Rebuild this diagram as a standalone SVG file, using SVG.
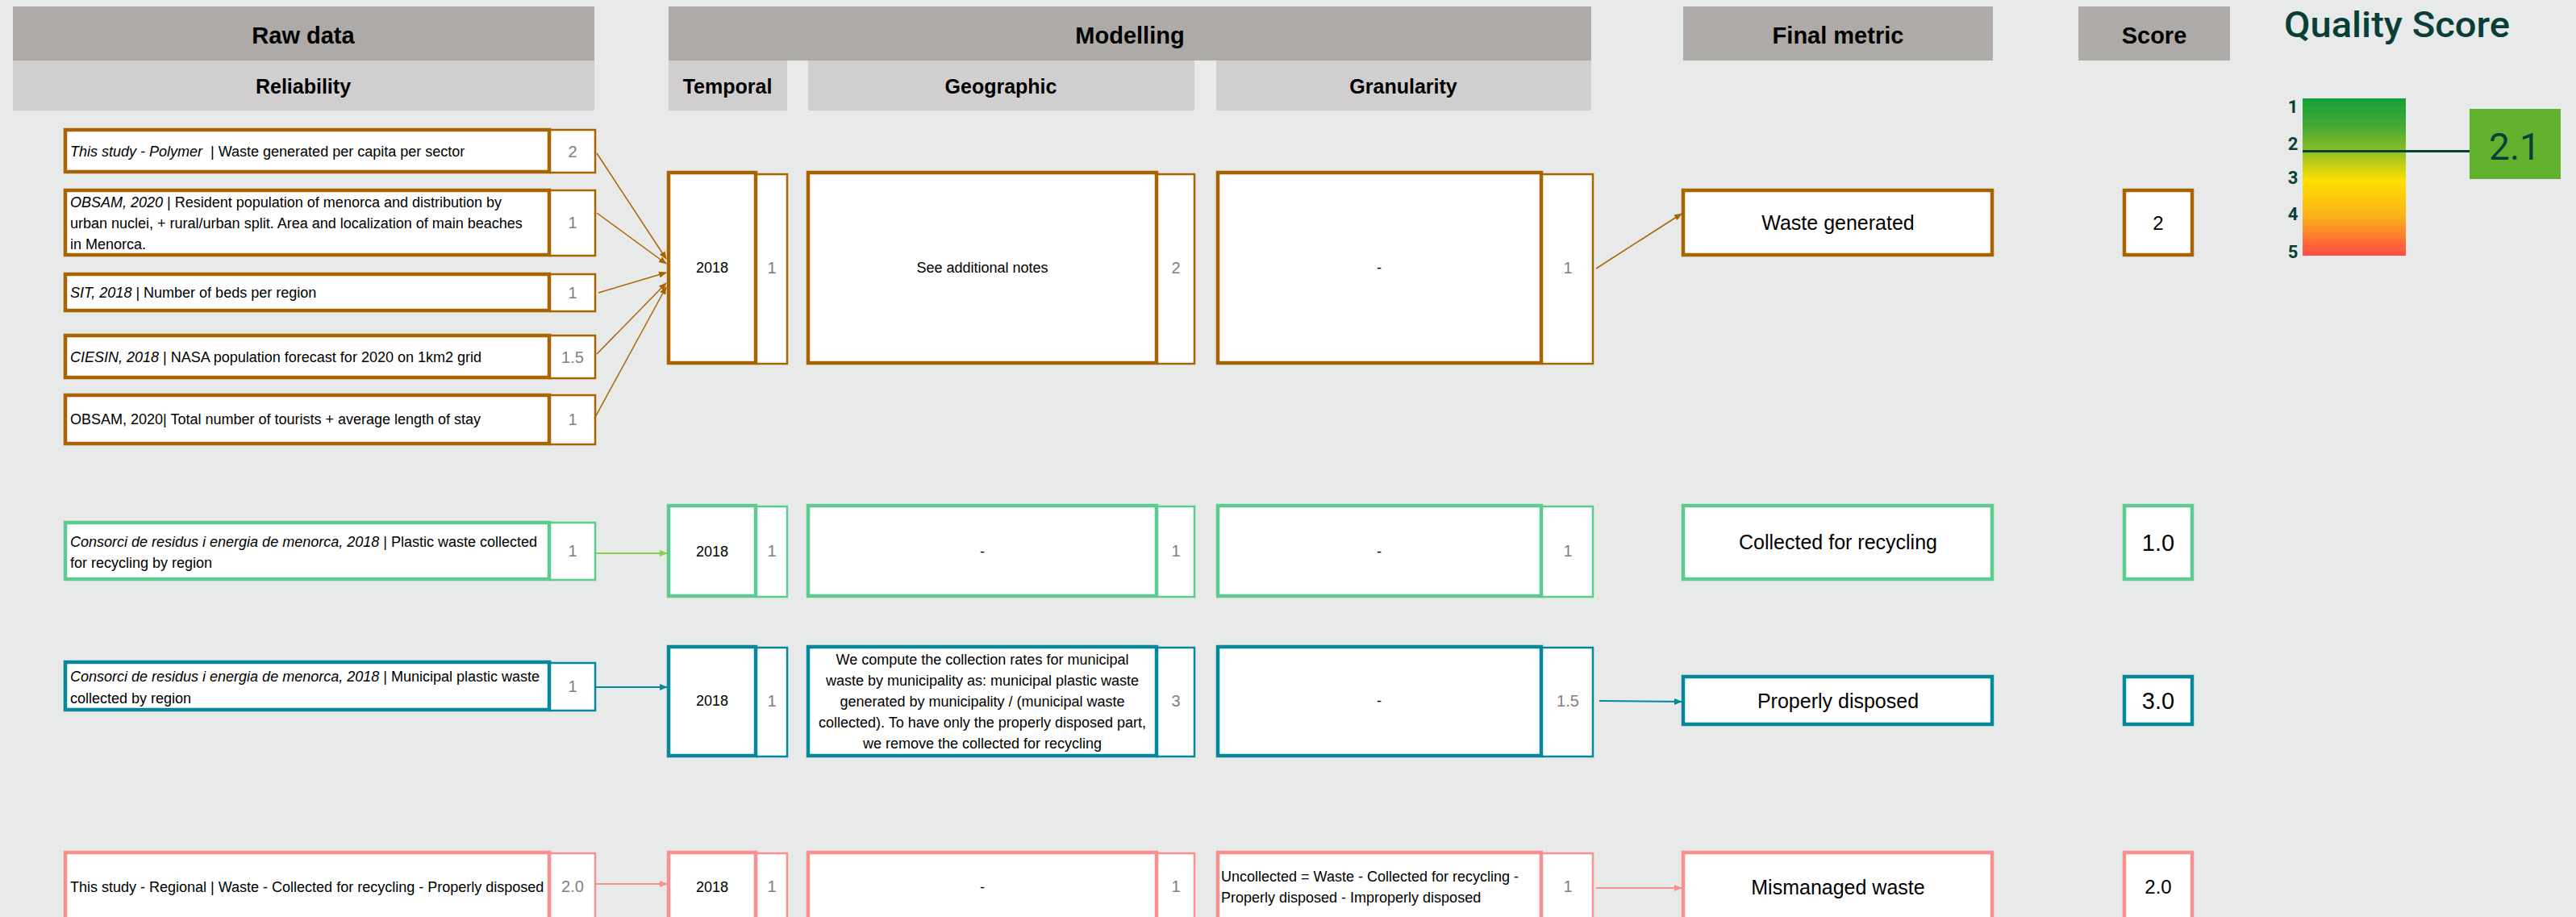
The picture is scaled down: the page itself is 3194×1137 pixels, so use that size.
<svg xmlns="http://www.w3.org/2000/svg" width="3194" height="1137" viewBox="0 0 3194 1137">
<defs>
<style>
.bg{fill:#E8EAE9}
.hd{fill:#ADAAA8}
.sh{fill:#D0CECF}
.h1{font-family:"Liberation Sans",Arial,sans-serif;font-weight:bold;font-size:29px;fill:#000;text-anchor:middle}
.h2{font-family:"Liberation Sans",Arial,sans-serif;font-weight:bold;font-size:25px;fill:#000;text-anchor:middle}
.t{font-family:"Liberation Sans",Arial,sans-serif;font-size:18px;fill:#000;white-space:pre}
.c{text-anchor:middle}
.i{font-style:italic}
.n{font-family:"Liberation Sans",Arial,sans-serif;font-size:20px;fill:#7F7F7F;text-anchor:middle}
.fm{font-family:"Liberation Sans",Arial,sans-serif;font-size:25px;fill:#000;text-anchor:middle}
.sc{font-family:"Liberation Sans",Arial,sans-serif;fill:#000;text-anchor:middle}
.box{fill:#fff}
.brn{stroke:#A86400}
.grn{stroke:#5CCB8F}
.tea{stroke:#05889A}
.pnk{stroke:#F98F8F}
.m{stroke-width:4.5}
.s{stroke-width:2.5}
.ql{font-family:Roboto,"Liberation Sans",sans-serif;font-weight:bold;font-size:22px;fill:#0A3F38;text-anchor:middle}
</style>
<linearGradient id="qg" x1="0" y1="0" x2="0" y2="1">
<stop offset="0" stop-color="#15A03C"/>
<stop offset="0.15" stop-color="#3DA636"/>
<stop offset="0.32" stop-color="#84BC27"/>
<stop offset="0.52" stop-color="#FFE000"/>
<stop offset="0.75" stop-color="#FBB21A"/>
<stop offset="1" stop-color="#FF4A45"/>
</linearGradient>
<marker id="ab" markerWidth="10" markerHeight="8" refX="9" refY="4" orient="auto" markerUnits="userSpaceOnUse"><path d="M0,0 L10,4 L0,8 z" fill="#A86400"/></marker>
<marker id="ag" markerWidth="10" markerHeight="8" refX="9" refY="4" orient="auto" markerUnits="userSpaceOnUse"><path d="M0,0 L10,4 L0,8 z" fill="#8BCF4F"/></marker>
<marker id="at" markerWidth="10" markerHeight="8" refX="9" refY="4" orient="auto" markerUnits="userSpaceOnUse"><path d="M0,0 L10,4 L0,8 z" fill="#05889A"/></marker>
<marker id="ap" markerWidth="10" markerHeight="8" refX="9" refY="4" orient="auto" markerUnits="userSpaceOnUse"><path d="M0,0 L10,4 L0,8 z" fill="#F98F8F"/></marker>
</defs>
<rect class="bg" x="0" y="0" width="3194" height="1137"/>

<g id="headers">
<rect class="hd" x="16" y="8" width="721" height="67"/>
<text class="h1" x="376" y="54">Raw data</text>
<rect class="sh" x="16" y="75" width="721" height="62"/>
<text class="h2" x="376" y="116">Reliability</text>
<rect class="hd" x="829" y="8" width="1144" height="67"/>
<text class="h1" x="1401" y="54">Modelling</text>
<rect class="sh" x="829" y="75" width="147" height="62"/>
<text class="h2" x="902" y="116">Temporal</text>
<rect class="sh" x="1002" y="75" width="479" height="62"/>
<text class="h2" x="1241" y="116">Geographic</text>
<rect class="sh" x="1508" y="75" width="465" height="62"/>
<text class="h2" x="1740" y="116">Granularity</text>
<rect class="hd" x="2087" y="8" width="384" height="67"/>
<text class="h1" x="2279" y="54">Final metric</text>
<rect class="hd" x="2577" y="8" width="188" height="67"/>
<text class="h1" x="2671" y="54">Score</text>
</g>

<g id="quality-score">
<text x="2832" y="46" font-family="Roboto,'Liberation Sans',sans-serif" font-weight="500" font-size="44" fill="#0A3F38" textLength="280" lengthAdjust="spacingAndGlyphs">Quality Score</text>
<rect x="2855" y="122" width="128" height="195" fill="url(#qg)"/>
<text class="ql" x="2843" y="140">1</text>
<text class="ql" x="2843" y="186">2</text>
<text class="ql" x="2843" y="228">3</text>
<text class="ql" x="2843" y="273">4</text>
<text class="ql" x="2843" y="320">5</text>
<line x1="2855" y1="187.5" x2="3062" y2="187.5" stroke="#0A3F38" stroke-width="3"/>
<rect x="3062" y="135" width="113" height="87" fill="#62B22F"/>
<text x="3118" y="198" font-family="Roboto,'Liberation Sans',sans-serif" font-size="46" fill="#0A3F38" text-anchor="middle">2.1</text>
</g>

<!-- Row 1 raw data -->
<g id="raw1">
<rect class="box brn m" x="81" y="161" width="600" height="52"/>
<rect class="box brn s" x="682" y="161" width="56" height="53"/>
<text class="t" x="87" y="194"><tspan class="i">This study - Polymer</tspan>  | Waste generated per capita per sector</text>
<text class="n" x="710" y="195">2</text>
</g>
<g id="raw2">
<rect class="box brn m" x="81" y="236" width="600" height="80"/>
<rect class="box brn s" x="682" y="236" width="56" height="81"/>
<text class="t" x="87" y="257"><tspan class="i">OBSAM, 2020</tspan> | Resident population of menorca and distribution by</text>
<text class="t" x="87" y="283">urban nuclei, + rural/urban split. Area and localization of main beaches</text>
<text class="t" x="87" y="309">in Menorca.</text>
<text class="n" x="710" y="283">1</text>
</g>
<g id="raw3">
<rect class="box brn m" x="81" y="340" width="600" height="45"/>
<rect class="box brn s" x="682" y="340" width="56" height="46"/>
<text class="t" x="87" y="369"><tspan class="i">SIT, 2018</tspan> | Number of beds per region</text>
<text class="n" x="710" y="370">1</text>
</g>
<g id="raw4">
<rect class="box brn m" x="81" y="416" width="600" height="52"/>
<rect class="box brn s" x="682" y="416" width="56" height="53"/>
<text class="t" x="87" y="449"><tspan class="i">CIESIN, 2018</tspan> | NASA population forecast for 2020 on 1km2 grid</text>
<text class="n" x="710" y="450">1.5</text>
</g>
<g id="raw5">
<rect class="box brn m" x="81" y="490" width="600" height="60"/>
<rect class="box brn s" x="682" y="490" width="56" height="61"/>
<text class="t" x="87" y="526">OBSAM, 2020| Total number of tourists + average length of stay</text>
<text class="n" x="710" y="527">1</text>
</g>

<!-- Row 1 modelling -->
<g id="temporal1">
<rect class="box brn m" x="829" y="214" width="108" height="236"/>
<rect class="box brn s" x="938" y="216" width="38" height="235"/>
<text class="t c" x="883" y="338">2018</text>
<text class="n" x="957" y="339">1</text>
</g>
<g id="geographic1">
<rect class="box brn m" x="1002" y="214" width="432" height="236"/>
<rect class="box brn s" x="1435" y="216" width="46" height="235"/>
<text class="t c" x="1218" y="338">See additional notes</text>
<text class="n" x="1458" y="339">2</text>
</g>
<g id="granularity1">
<rect class="box brn m" x="1510" y="214" width="401" height="236"/>
<rect class="box brn s" x="1912" y="216" width="63" height="235"/>
<text class="t c" x="1710" y="338">-</text>
<text class="n" x="1944" y="339">1</text>
</g>
<g id="final1">
<rect class="box brn m" x="2087" y="236" width="383" height="80"/>
<text class="fm" x="2279" y="285">Waste generated</text>
</g>
<g id="score1">
<rect class="box brn m" x="2634" y="236" width="84" height="80"/>
<text class="sc" x="2676" y="285" font-size="24">2</text>
</g>

<!-- Row 2 -->
<g id="raw6">
<rect class="box grn m" x="81" y="648" width="600" height="70"/>
<rect class="box grn s" x="682" y="648" width="56" height="71"/>
<text class="t" x="87" y="678"><tspan class="i">Consorci de residus i energia de menorca, 2018</tspan> | Plastic waste collected</text>
<text class="t" x="87" y="704">for recycling by region</text>
<text class="n" x="710" y="690">1</text>
</g>
<g id="temporal2">
<rect class="box grn m" x="829" y="627" width="108" height="112"/>
<rect class="box grn s" x="938" y="628" width="38" height="112"/>
<text class="t c" x="883" y="690">2018</text>
<text class="n" x="957" y="690">1</text>
</g>
<g id="geographic2">
<rect class="box grn m" x="1002" y="627" width="432" height="112"/>
<rect class="box grn s" x="1435" y="628" width="46" height="112"/>
<text class="t c" x="1218" y="690">-</text>
<text class="n" x="1458" y="690">1</text>
</g>
<g id="granularity2">
<rect class="box grn m" x="1510" y="627" width="401" height="112"/>
<rect class="box grn s" x="1912" y="628" width="63" height="112"/>
<text class="t c" x="1710" y="690">-</text>
<text class="n" x="1944" y="690">1</text>
</g>
<g id="final2">
<rect class="box grn m" x="2087" y="627" width="383" height="91"/>
<text class="fm" x="2279" y="681">Collected for recycling</text>
</g>
<g id="score2">
<rect class="box grn m" x="2634" y="627" width="84" height="91"/>
<text class="sc" x="2676" y="683" font-size="29">1.0</text>
</g>

<!-- Row 3 -->
<g id="raw7">
<rect class="box tea m" x="81" y="821" width="600" height="59"/>
<rect class="box tea s" x="682" y="822" width="56" height="59"/>
<text class="t" x="87" y="845"><tspan class="i">Consorci de residus i energia de menorca, 2018</tspan> | Municipal plastic waste</text>
<text class="t" x="87" y="872">collected by region</text>
<text class="n" x="710" y="858">1</text>
</g>
<g id="temporal3">
<rect class="box tea m" x="829" y="802" width="108" height="135"/>
<rect class="box tea s" x="938" y="803" width="38" height="135"/>
<text class="t c" x="883" y="875">2018</text>
<text class="n" x="957" y="876">1</text>
</g>
<g id="geographic3">
<rect class="box tea m" x="1002" y="802" width="432" height="135"/>
<rect class="box tea s" x="1435" y="803" width="46" height="135"/>
<text class="t c" x="1218" y="824">We compute the collection rates for municipal</text>
<text class="t c" x="1218" y="850">waste by municipality as: municipal plastic waste</text>
<text class="t c" x="1218" y="876">generated by municipality / (municipal waste</text>
<text class="t c" x="1218" y="902">collected). To have only the properly disposed part,</text>
<text class="t c" x="1218" y="928">we remove the collected for recycling</text>
<text class="n" x="1458" y="876">3</text>
</g>
<g id="granularity3">
<rect class="box tea m" x="1510" y="802" width="401" height="135"/>
<rect class="box tea s" x="1912" y="803" width="63" height="135"/>
<text class="t c" x="1710" y="875">-</text>
<text class="n" x="1944" y="876">1.5</text>
</g>
<g id="final3">
<rect class="box tea m" x="2087" y="839" width="383" height="59"/>
<text class="fm" x="2279" y="878">Properly disposed</text>
</g>
<g id="score3">
<rect class="box tea m" x="2634" y="839" width="84" height="59"/>
<text class="sc" x="2676" y="879" font-size="29">3.0</text>
</g>

<!-- Row 4 -->
<g id="raw8">
<rect class="box pnk m" x="81" y="1057" width="600" height="100"/>
<rect class="box pnk s" x="682" y="1058" width="56" height="100"/>
<text class="t" x="87" y="1106">This study - Regional | Waste - Collected for recycling - Properly disposed</text>
<text class="n" x="710" y="1106">2.0</text>
</g>
<g id="temporal4">
<rect class="box pnk m" x="829" y="1057" width="108" height="100"/>
<rect class="box pnk s" x="938" y="1058" width="38" height="100"/>
<text class="t c" x="883" y="1106">2018</text>
<text class="n" x="957" y="1106">1</text>
</g>
<g id="geographic4">
<rect class="box pnk m" x="1002" y="1057" width="432" height="100"/>
<rect class="box pnk s" x="1435" y="1058" width="46" height="100"/>
<text class="t c" x="1218" y="1106">-</text>
<text class="n" x="1458" y="1106">1</text>
</g>
<g id="granularity4">
<rect class="box pnk m" x="1510" y="1057" width="401" height="100"/>
<rect class="box pnk s" x="1912" y="1058" width="63" height="100"/>
<text class="t" x="1514" y="1093">Uncollected = Waste - Collected for recycling -</text>
<text class="t" x="1514" y="1119">Properly disposed - Improperly disposed</text>
<text class="n" x="1944" y="1106">1</text>
</g>
<g id="final4">
<rect class="box pnk m" x="2087" y="1057" width="383" height="100"/>
<text class="fm" x="2279" y="1109">Mismanaged waste</text>
</g>
<g id="score4">
<rect class="box pnk m" x="2634" y="1057" width="84" height="100"/>
<text class="sc" x="2676" y="1108" font-size="24">2.0</text>
</g>

<g id="connectors" fill="none" stroke-width="1.5">
<line x1="740" y1="190" x2="826" y2="321" stroke="#A86400" marker-end="url(#ab)"/>
<line x1="740" y1="264" x2="826" y2="327" stroke="#A86400" marker-end="url(#ab)"/>
<line x1="742" y1="363" x2="826" y2="338" stroke="#A86400" marker-end="url(#ab)"/>
<line x1="740" y1="439" x2="826" y2="351" stroke="#A86400" marker-end="url(#ab)"/>
<line x1="737" y1="519" x2="826" y2="356" stroke="#A86400" marker-end="url(#ab)"/>
<line x1="1979" y1="333" x2="2085" y2="265" stroke="#A86400" marker-end="url(#ab)"/>
<line x1="739" y1="686" x2="827" y2="686" stroke="#8BCF4F" stroke-width="2" marker-end="url(#ag)"/>
<line x1="739" y1="852" x2="827" y2="852" stroke="#05889A" stroke-width="2" marker-end="url(#at)"/>
<line x1="1983" y1="869" x2="2085" y2="870" stroke="#05889A" stroke-width="2" marker-end="url(#at)"/>
<line x1="739" y1="1096" x2="827" y2="1096" stroke="#F98F8F" stroke-width="2" marker-end="url(#ap)"/>
<line x1="1979" y1="1101" x2="2085" y2="1101" stroke="#F98F8F" stroke-width="2" marker-end="url(#ap)"/>
</g>
</svg>
